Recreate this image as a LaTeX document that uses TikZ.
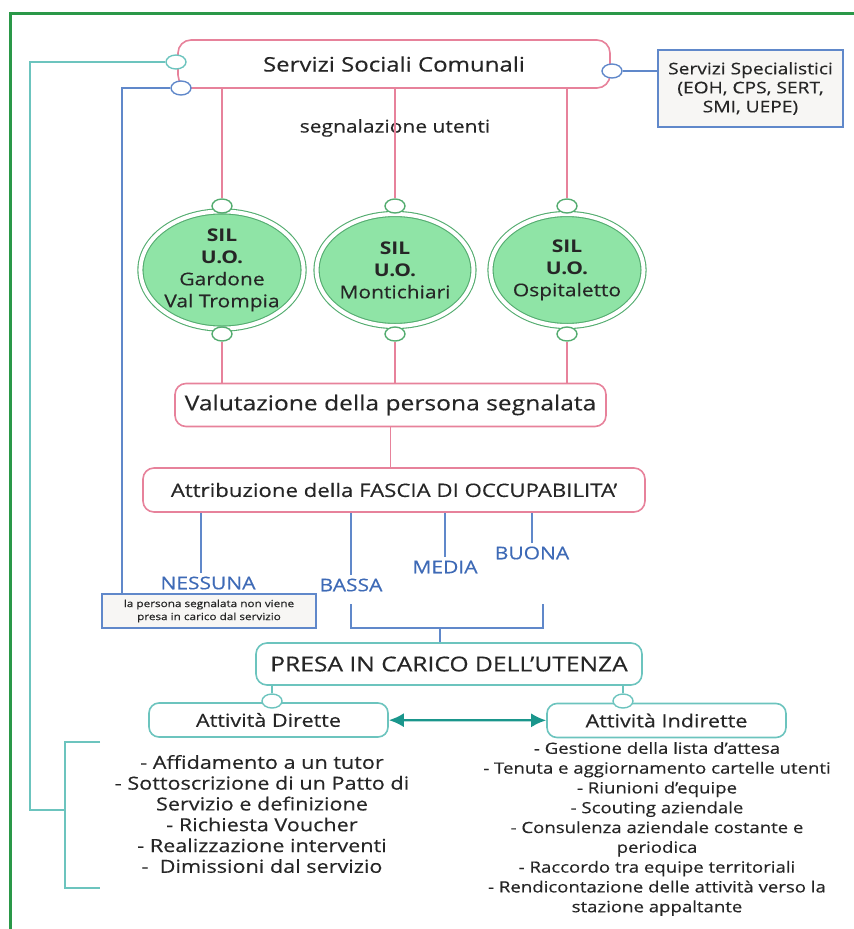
\documentclass[tikz,border=0pt]{standalone}
\usepackage{fontspec}
\setmainfont{Open Sans}[FakeStretch=1.2,UprightFeatures={FakeBold=0.4}]
\usepackage{tikz}
\usetikzlibrary{shapes.geometric}
\usetikzlibrary{arrows.meta}
\usetikzlibrary{calc}
\usetikzlibrary{positioning}
\definecolor{pinkc}{RGB}{231,130,155}
\definecolor{bluec}{RGB}{96,136,202}
\definecolor{bluetext}{RGB}{62,106,182}
\definecolor{tealc}{RGB}{108,196,190}
\definecolor{arrowc}{RGB}{26,150,140}
\definecolor{framec}{RGB}{42,152,72}
\definecolor{silfill}{RGB}{143,228,166}
\definecolor{silline}{RGB}{84,172,112}
\definecolor{boxfill}{RGB}{247,246,244}
\definecolor{textc}{RGB}{38,38,38}
\newcommand{\fsz}[2]{\fontsize{#1}{#2}\selectfont}
\tikzstyle{frame}=[draw=framec, line width=3pt]
\tikzstyle{pbox}=[shape=rectangle,draw=pinkc,line width=1.6pt,rounded corners=11pt,fill=white,text=textc,inner sep=0pt]
\tikzstyle{tbox}=[shape=rectangle,draw=tealc,line width=1.6pt,rounded corners=11pt,fill=white,text=textc,inner sep=0pt]
\tikzstyle{gbox}=[shape=rectangle,draw=bluec,line width=1.4pt,fill=boxfill,text=textc,inner sep=0pt,align=center]
\tikzstyle{sil}=[shape=ellipse,draw=silline,fill=silfill,double=white,double distance=4pt,line width=1.1pt,minimum width=150pt,minimum height=112pt,inner sep=0pt,align=center,text=textc,font=\fsz{17.5}{22}]
\tikzstyle{knob}=[shape=ellipse,draw,fill=white,line width=1.4pt,minimum width=20pt,minimum height=14pt,inner sep=0pt]
\tikzstyle{fascia}=[text=bluetext,font=\fsz{17.5}{20}]
\tikzstyle{listtxt}=[text=textc,align=center,inner sep=0pt]
\tikzstyle{pinkln}=[draw=pinkc,line width=1.6pt]
\tikzstyle{blueln}=[draw=bluec,line width=1.6pt]
\tikzstyle{tealln}=[draw=tealc,line width=1.6pt]
\tikzstyle{biarrow}=[draw=arrowc,line width=2.2pt,{Latex[length=15pt,width=14pt]}-{Latex[length=15pt,width=14pt]}]

\begin{document}
\begin{tikzpicture}[x=1pt,y=-1pt]
\useasboundingbox (0,0) rectangle (854,929);
\draw[frame] (10,929) -- (10,13) -- (854,13);

\node[pbox,minimum width=432pt,minimum height=48pt,rounded corners=13pt,font=\fsz{20}{24}] (ssc) at (394,64) {Servizi Sociali Comunali};
\node[gbox,minimum width=185pt,minimum height=77pt,font=\fsz{16}{19}] (spec) at (750.5,88.5) {Servizi Specialistici\\(EOH, CPS, SERT,\\SMI, UEPE)};
\node[text=textc,font=\fsz{17.5}{20}] (segn) at (395,128) {segnalazione utenti};

\node[sil] (gar) at (222,270) {\textbf{SIL}\\\textbf{U.O.}\\Gardone\\Val Trompia};
\node[sil] (mon) at (395,270) {\textbf{SIL}\\\textbf{U.O.}\\Montichiari};
\node[sil] (osp) at (567,270) {\textbf{SIL}\\\textbf{U.O.}\\Ospitaletto};

\node[pbox,minimum width=431pt,minimum height=43pt,font=\fsz{20.5}{24}] (valut) at (390.5,405) {Valutazione della persona segnalata};
\node[pbox,minimum width=502pt,minimum height=44pt,font=\fsz{18.5}{21}] (attr) at (394,490) {Attribuzione della FASCIA DI OCCUPABILITA’};

\node[fascia] (nessuna) at (208,583) {NESSUNA};
\node[fascia] (bassa) at (351,585) {BASSA};
\node[fascia] (media) at (445,567) {MEDIA};
\node[fascia] (buona) at (532,553) {BUONA};
\node[gbox,minimum width=214pt,minimum height=34pt,font=\fsz{9.8}{13}] (note) at (209,611) {la persona segnalata non viene\\presa in carico dal servizio};

\node[tbox,minimum width=386pt,minimum height=42pt,font=\fsz{20.5}{23}] (presa) at (449,664) {PRESA IN CARICO DELL’UTENZA};
\node[tbox,minimum width=239pt,minimum height=34pt,rounded corners=10pt,font=\fsz{18}{20}] (dirette) at (268.5,720) {Attività Dirette};
\node[tbox,minimum width=239pt,minimum height=34pt,rounded corners=10pt,font=\fsz{18}{20}] (indirette) at (666.5,720.5) {Attività Indirette};

\node[listtxt,font=\fsz{18}{20.8}] (ldir) at (262,814) {- Affidamento a un tutor\\- Sottoscrizione di un Patto di\\Servizio e definizione\\- Richiesta Voucher\\- Realizzazione interventi\\-\ \ Dimissioni dal servizio};
\node[listtxt,font=\fsz{15.5}{19.8}] (lind) at (657,829) {- Gestione della lista d’attesa\\- Tenuta e aggiornamento cartelle utenti\\- Riunioni d’equipe\\- Scouting aziendale\\- Consulenza aziendale costante e\\periodica\\- Raccordo tra equipe territoriali\\- Rendicontazione delle attività verso la\\stazione appaltante};

%knobs
\node[knob,draw=tealc] (kteal) at (176,62) {};
\node[knob,draw=bluec] (kblue) at (181,88) {};
\node[knob,draw=bluec] (kright) at (612,71) {};
\foreach \s/\x in {gar/222,mon/395,osp/567}{
\node[knob,draw=silline] (\s-top) at (\x,206) {};
\node[knob,draw=silline] (\s-bot) at (\x,334) {};
}
\node[knob,draw=tealc] (kpd) at (272,701) {};
\node[knob,draw=tealc] (kpi) at (623,701) {};

\coordinate (tturn) at (30,62);
\coordinate (tmid) at (65,810);
\coordinate (tb1) at (100,742);
\coordinate (tb2) at (100,888);
\coordinate (bturn) at (122,88);
\coordinate (bl) at (351,604);
\coordinate (br) at (543,604);
\coordinate (bjoin) at (440,628);

\draw[tealln] (kteal) -- (tturn) |- (tmid);
\draw[tealln] (tb1) -| (tmid) |- (tb2);
\draw[blueln] (kblue) -- (bturn) -- (bturn |- note.north);
\draw[blueln] (kright) -- (kright -| spec.west);

\foreach \s in {gar,mon,osp}{
\draw[pinkln] (ssc.south -| \s-top) -- (\s-top);
\draw[pinkln] (\s-bot) -- (\s-bot |- valut.north);
}
\draw[pinkln] (valut.south) -- (valut.south |- attr.north);

\draw[blueln] ([xshift=-7pt]nessuna.north) -- ([xshift=-7pt]nessuna.north |- attr.south);
\draw[blueln] (bassa.north) -- (bassa.north |- attr.south);
\draw[blueln] (media.north) -- (media.north |- attr.south);
\draw[blueln] (buona.north) -- (buona.north |- attr.south);
\draw[blueln] (bl) |- (bjoin) -| (br);
\draw[blueln] (bjoin) -- (bjoin |- presa.north);

\draw[tealln] (kpd) -- (kpd |- presa.south);
\draw[tealln] (kpi) -- (kpi |- presa.south);
\draw[biarrow] (dirette) -- (indirette);
\end{tikzpicture}
\end{document}
